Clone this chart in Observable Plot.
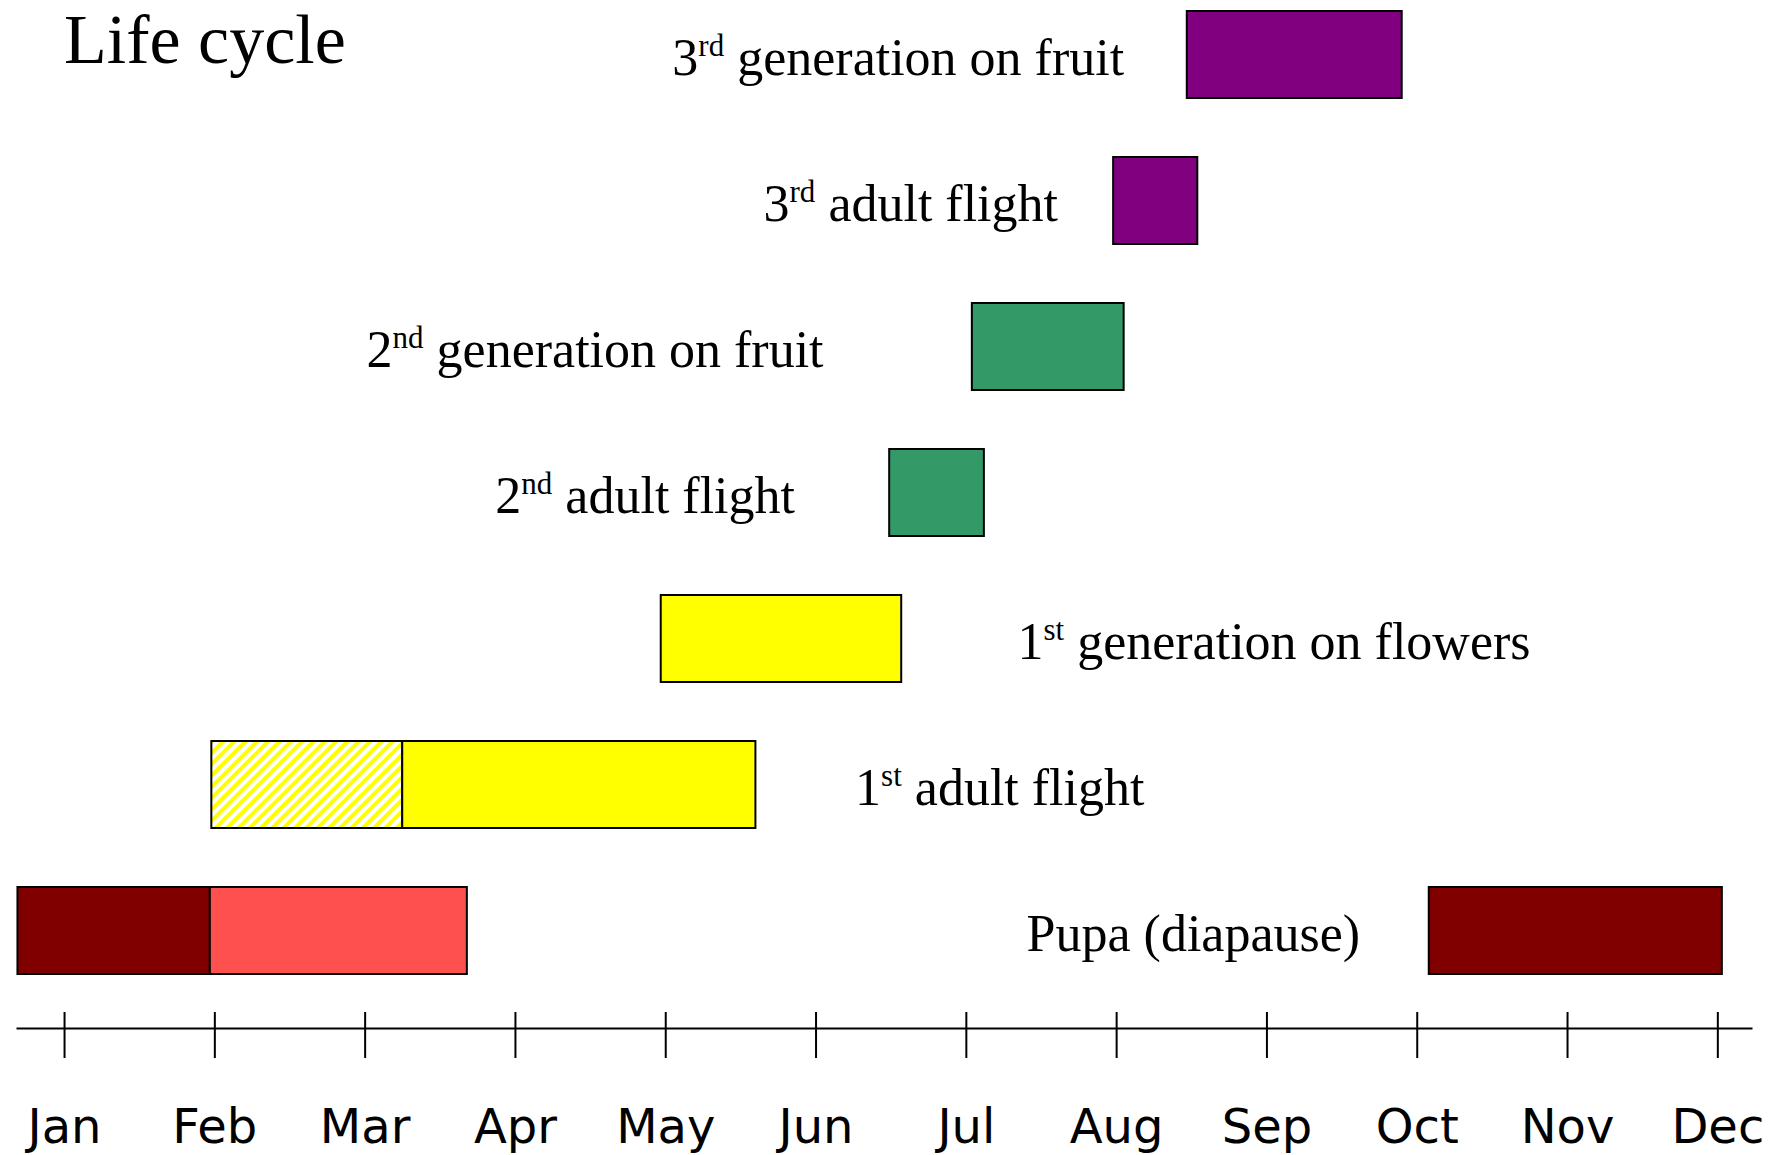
<!DOCTYPE html>
<html><head><meta charset="utf-8">
<script src="https://cdn.jsdelivr.net/npm/d3@7"></script>
<script src="https://cdn.jsdelivr.net/npm/@observablehq/plot@0.6"></script>
<style>
html,body{margin:0;padding:0;background:#fff;overflow:hidden;}
#wrap{position:relative;width:1769px;height:1155px;overflow:hidden;background:#fff;}
#title{position:absolute;z-index:2;left:64px;top:0px;margin:0;font-weight:normal;font-size:70px;line-height:normal;font-family:"Liberation Serif",serif;color:#000;white-space:nowrap;}
#chart{position:absolute;left:0;top:0;z-index:1;}
</style></head><body>
<div id="wrap"><h1 id="title">Life cycle</h1><div id="chart"></div></div>
<script>
// ---- data ----
const months = ["Jan","Feb","Mar","Apr","May","Jun","Jul","Aug","Sep","Oct","Nov","Dec"];
const monthTicks = [1,2,3,4,5,6,7,8,9,10,11,12];
const stages = ["3rd generation on fruit","3rd adult flight","2nd generation on fruit","2nd adult flight","1st generation on flowers","1st adult flight","Pupa (diapause)"];

// bar segments (month units, Jan = 1)
const segStage = ["3rd generation on fruit","3rd adult flight","2nd generation on fruit","2nd adult flight","1st generation on flowers","1st adult flight","1st adult flight","Pupa (diapause)","Pupa (diapause)","Pupa (diapause)"];
const segStart = [8.47, 7.98, 7.04, 6.49, 4.97, 1.98, 3.25, 0.69, 1.97, 10.08];
const segEnd   = [9.90, 8.54, 8.05, 7.12, 6.57, 3.25, 5.60, 1.97, 3.68, 12.03];
const segPhase = ["3rd generation","3rd generation","2nd generation","2nd generation","1st generation","1st generation (early)","1st generation","Diapause","Post-diapause","Diapause"];

// label anchors (month units) and side
const labelStage = stages;
const labelAt   = [8.05, 7.61, 6.05, 5.86, 7.34, 6.26, 9.62];
const labelSide = ["end","end","end","end","start","start","end"];

const phases = ["3rd generation","2nd generation","1st generation","1st generation (early)","Diapause","Post-diapause"];
const phaseColors = ["#800080","#339966","#ffff00","url(#hatch)","#800000","#ff5050"];

const segments = segStage.map((s, i) => ({stage: s, start: segStart[i], end: segEnd[i], phase: segPhase[i]}));
const labels = labelStage.map((s, i) => ({stage: s, at: labelAt[i], side: labelSide[i]}));

const serif = "Liberation Serif";
const labelSize = 52;

const chart = Plot.plot({
  width: 1769,
  height: 1155,
  marginTop: 0,
  marginLeft: 17,
  marginRight: 18,
  marginBottom: 127,
  style: {background: "white", color: "black", overflow: "visible"},
  x: {domain: [0.687, 12.224], label: null},
  y: {domain: stages, range: [9, 976.5], paddingInner: 0.407, paddingOuter: 0, axis: null},
  color: {domain: phases, range: phaseColors},
  marks: [
    Plot.barX(segments, {x1: "start", x2: "end", y: "stage", fill: "phase", stroke: "black", strokeWidth: 2}),
    Plot.text(labels.filter(d => d.side === "end"), {x: "at", y: "stage", text: "stage", textAnchor: "end", lineAnchor: "middle", dy: 3, fontSize: labelSize, fontFamily: serif, fill: "black"}),
    Plot.text(labels.filter(d => d.side === "start"), {x: "at", y: "stage", text: "stage", textAnchor: "start", lineAnchor: "middle", dy: 3, fontSize: labelSize, fontFamily: serif, fill: "black"}),
    Plot.frame({anchor: "bottom", strokeWidth: 2}),
    Plot.ruleX(monthTicks, {x: d => d, insetTop: 1012, strokeWidth: 2}),
    Plot.axisX(monthTicks, {tickFormat: d => months[d - 1], tickSize: 30, tickPadding: 50, fontSize: 48, fontFamily: "DejaVu Sans", strokeWidth: 2, label: null})
  ]
});

// hatch pattern definition
const NS = "http://www.w3.org/2000/svg";
const defs = document.createElementNS(NS, "defs");
const pat = document.createElementNS(NS, "pattern");
pat.setAttribute("id", "hatch");
pat.setAttribute("patternUnits", "userSpaceOnUse");
pat.setAttribute("width", "8");
pat.setAttribute("height", "8");
pat.setAttribute("patternTransform", "rotate(45)");
const bg = document.createElementNS(NS, "rect");
bg.setAttribute("width", "8"); bg.setAttribute("height", "8"); bg.setAttribute("fill", "white");
const st = document.createElementNS(NS, "rect");
st.setAttribute("width", "4"); st.setAttribute("height", "8"); st.setAttribute("fill", "#ffff00");
pat.appendChild(bg); pat.appendChild(st); defs.appendChild(pat);
chart.insertBefore(defs, chart.firstChild);

// ordinal superscripts (3rd, 2nd, 1st)
chart.querySelectorAll("text").forEach(t => {
  const m = /^(\d)(st|nd|rd|th)(\s.*)$/.exec(t.textContent);
  if (!m) return;
  t.textContent = "";
  const a = document.createElementNS(NS, "tspan"); a.textContent = m[1];
  const b = document.createElementNS(NS, "tspan"); b.textContent = m[2];
  b.setAttribute("font-size", Math.round(labelSize * 0.6)); b.setAttribute("dy", -19);
  const c = document.createElementNS(NS, "tspan"); c.textContent = m[3]; c.setAttribute("dy", 19);
  t.appendChild(a); t.appendChild(b); t.appendChild(c);
});

document.getElementById("chart").appendChild(chart);
</script>
</body></html>
